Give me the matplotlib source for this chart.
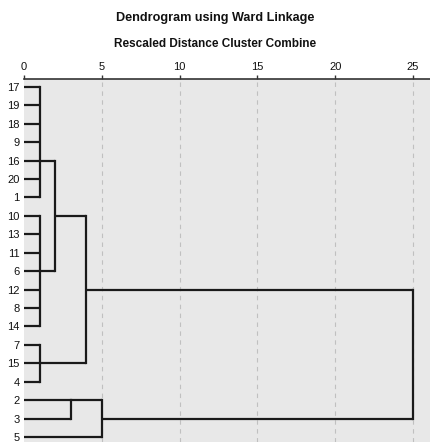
#!/usr/bin/env python3
# -*- coding: utf-8 -*-

import matplotlib.pyplot as plt

plt.rcParams['font.family'] = ['Liberation Sans', 'DejaVu Sans']

# leaf labels, top to bottom
leaves = ['17', '19', '18', '9', '16', '20', '1', '10', '13', '11', '6',
          '12', '8', '14', '7', '15', '4', '2', '3', '5']

# merges: children (leaf rows 0..19, clusters 20..), rescaled distance, row of outgoing line
merge_children = [list(range(0, 7)), list(range(7, 14)), [14, 15, 16],
                  [20, 21], [23, 22], [17, 18], [25, 19], [24, 26]]
merge_height = [1, 1, 1, 2, 4, 3, 5, 25]
merge_row = [4, 10, 15, 7, 11, 17, 18, 14.5]

fig = plt.figure(figsize=(4.3, 4.42), dpi=100)
ax = fig.add_axes([24 / 430, 0, 1 - 24 / 430, 1 - 79 / 442])
ax.set_facecolor('#e8e8e8')

n = len(leaves)
pos = {i: (float(i), 0.0) for i in range(n)}  # node -> (row, height)
for k, (ch, h, r) in enumerate(zip(merge_children, merge_height, merge_row)):
    rows = [pos[c][0] for c in ch]
    for c in ch:
        cy, cx = pos[c]
        ax.plot([cx, h], [cy, cy], color='#1a1a1a', lw=1.6, solid_capstyle='butt', zorder=3)
    ax.plot([h, h], [min(rows), max(rows)], color='#1a1a1a', lw=1.6,
            solid_capstyle='projecting', zorder=3)
    pos[n + k] = (r, h)

for g in [5, 10, 15, 20, 25]:
    ax.axvline(g, color='#c0c0c0', lw=0.8, ls=(0, (4, 4)), zorder=1)

ax.set_xlim(0, 26.09)
ax.set_ylim(19.27, -0.43)
ax.xaxis.tick_top()
ax.set_xticks([0, 5, 10, 15, 20, 25])
ax.tick_params(axis='x', direction='out', length=3, width=1, color='#333333',
               labelsize=8, pad=2, labelcolor='#111111')
ax.set_yticks(range(n))
ax.set_yticklabels(leaves)
ax.tick_params(axis='y', length=0, labelsize=8, pad=3, labelcolor='#111111')
for s in ['left', 'right', 'bottom']:
    ax.spines[s].set_visible(False)
ax.spines['top'].set_color('#333333')
ax.spines['top'].set_linewidth(1.2)

fig.text(0.5, 1 - 18 / 442, 'Dendrogram using Ward Linkage', ha='center', va='center',
         fontsize=9.1, fontweight='bold', color='#111111')
fig.text(0.5, 1 - 44 / 442, 'Rescaled Distance Cluster Combine', ha='center', va='center',
         fontsize=8.5, fontweight='bold', color='#111111')

fig.savefig('out.png', dpi=100)
